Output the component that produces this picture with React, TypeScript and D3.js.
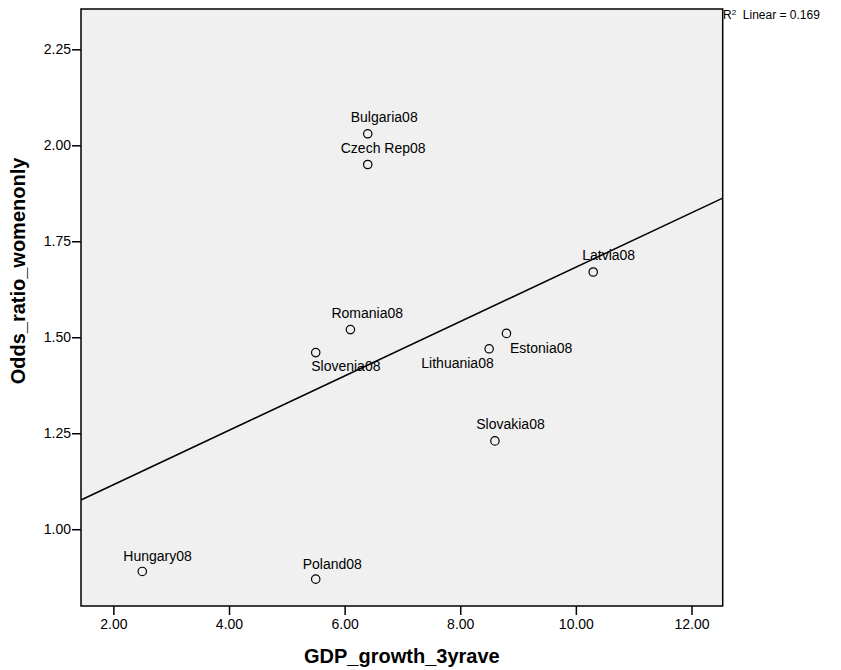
import React, { useRef, useEffect } from 'react';
import * as d3 from 'd3';

// Country labels and values
const countries = ['Hungary08', 'Poland08', 'Bulgaria08', 'Czech Rep08', 'Romania08', 'Slovenia08', 'Estonia08', 'Lithuania08', 'Slovakia08', 'Latvia08'];
const gdpGrowth = [2.5, 5.5, 6.4, 6.4, 6.1, 5.5, 8.8, 8.5, 8.6, 10.3];
const oddsRatio = [0.89, 0.87, 2.03, 1.95, 1.52, 1.46, 1.51, 1.47, 1.23, 1.67];

const xTicks = [2, 4, 6, 8, 10, 12];
const yTicks = [1.0, 1.25, 1.5, 1.75, 2.0, 2.25];

// where SPSS put each point label relative to its marker
const labelPlacement: Record<string, { dx: number; dy: number; anchor: string }> = {
  'Hungary08': { dx: -19, dy: -10.5, anchor: 'start' },
  'Poland08': { dx: -13, dy: -10.5, anchor: 'start' },
  'Bulgaria08': { dx: -17, dy: -11.5, anchor: 'start' },
  'Czech Rep08': { dx: -27, dy: -11.5, anchor: 'start' },
  'Romania08': { dx: -19, dy: -11.5, anchor: 'start' },
  'Slovenia08': { dx: -4.5, dy: 18.7, anchor: 'start' },
  'Estonia08': { dx: 3.5, dy: 19.4, anchor: 'start' },
  'Lithuania08': { dx: 4.6, dy: 19.3, anchor: 'end' },
  'Slovakia08': { dx: -18.7, dy: -11.7, anchor: 'start' },
  'Latvia08': { dx: -11, dy: -11.6, anchor: 'start' },
};

const App: React.FC = () => {
  const svgRef = useRef<SVGSVGElement | null>(null);

  useEffect(() => {
    const svg = d3.select(svgRef.current);
    svg.selectAll('*').remove();

    const plot = { left: 81, right: 722.7, top: 9, bottom: 606 };
    const font = 'Arial, "Liberation Sans", Helvetica, sans-serif';

    const x = d3.scaleLinear().domain([1.44, 12.54]).range([plot.left, plot.right]);
    const y = d3.scaleLinear().domain([0.8, 2.355]).range([plot.bottom, plot.top]);

    const data = countries.map((name, i) => ({ name, gdp: gdpGrowth[i], odds: oddsRatio[i] }));

    // plot background
    svg.append('rect')
      .attr('x', plot.left)
      .attr('y', plot.top)
      .attr('width', plot.right - plot.left)
      .attr('height', plot.bottom - plot.top)
      .attr('fill', '#f0f0f0');

    // least squares fit line
    const mx = d3.mean(gdpGrowth)!;
    const my = d3.mean(oddsRatio)!;
    const sxy = d3.sum(gdpGrowth, (v, i) => (v - mx) * (oddsRatio[i] - my));
    const sxx = d3.sum(gdpGrowth, v => (v - mx) ** 2);
    const slope = sxy / sxx;
    const intercept = my - slope * mx;
    const [x0, x1] = x.domain();

    svg.append('line')
      .attr('x1', x(x0))
      .attr('y1', y(intercept + slope * x0))
      .attr('x2', x(x1))
      .attr('y2', y(intercept + slope * x1))
      .attr('stroke', '#000')
      .attr('stroke-width', 1.5);

    // x axis
    const xAxis = svg.append('g')
      .attr('transform', `translate(0,${plot.bottom})`)
      .call(d3.axisBottom(x).tickValues(xTicks).tickFormat(d3.format('.2f')).tickSize(9).tickSizeOuter(0));
    xAxis.select('.domain').remove();
    xAxis.selectAll('.tick line').attr('stroke', '#000').attr('stroke-width', 1.5);
    xAxis.selectAll('.tick text')
      .attr('fill', '#000')
      .attr('font-family', font)
      .attr('font-size', '14px')
      .attr('y', 13)
      .attr('dy', '0.71em');

    // y axis
    const yAxis = svg.append('g')
      .attr('transform', `translate(${plot.left},0)`)
      .call(d3.axisLeft(y).tickValues(yTicks).tickFormat(d3.format('.2f')).tickSize(9).tickSizeOuter(0));
    yAxis.select('.domain').remove();
    yAxis.selectAll('.tick line').attr('stroke', '#000').attr('stroke-width', 1.5);
    yAxis.selectAll('.tick text')
      .attr('fill', '#000')
      .attr('font-family', font)
      .attr('font-size', '14px')
      .attr('x', -10);

    // frame
    svg.append('rect')
      .attr('x', plot.left)
      .attr('y', plot.top)
      .attr('width', plot.right - plot.left)
      .attr('height', plot.bottom - plot.top)
      .attr('fill', 'none')
      .attr('stroke', '#000')
      .attr('stroke-width', 1.5);

    // points
    svg.append('g')
      .selectAll('circle')
      .data(data)
      .enter()
      .append('circle')
      .attr('cx', d => x(d.gdp))
      .attr('cy', d => y(d.odds))
      .attr('r', 4.2)
      .attr('fill', 'none')
      .attr('stroke', '#000')
      .attr('stroke-width', 1.2);

    // point labels
    svg.append('g')
      .selectAll('text')
      .data(data)
      .enter()
      .append('text')
      .attr('x', d => x(d.gdp) + labelPlacement[d.name].dx)
      .attr('y', d => y(d.odds) + labelPlacement[d.name].dy)
      .attr('text-anchor', d => labelPlacement[d.name].anchor)
      .attr('font-family', font)
      .attr('font-size', '14px')
      .attr('fill', '#000')
      .text(d => d.name);

    // axis titles
    svg.append('text')
      .attr('x', (plot.left + plot.right) / 2)
      .attr('y', 663)
      .attr('text-anchor', 'middle')
      .attr('font-family', font)
      .attr('font-size', '20px')
      .attr('font-weight', 'bold')
      .text('GDP_growth_3yrave');

    svg.append('text')
      .attr('transform', 'translate(25,271) rotate(-90)')
      .attr('text-anchor', 'middle')
      .attr('font-family', font)
      .attr('font-size', '20px')
      .attr('font-weight', 'bold')
      .text('Odds_ratio_womenonly');

    // R squared annotation
    const r2 = (sxy * sxy) / (sxx * d3.sum(oddsRatio, v => (v - my) ** 2));
    const r2Text = svg.append('text')
      .attr('x', 723)
      .attr('y', 19)
      .attr('font-family', font)
      .attr('font-size', '12px')
      .attr('fill', '#000');
    r2Text.append('tspan').text('R');
    r2Text.append('tspan').attr('font-size', '8px').attr('dy', -4).text('2');
    r2Text.append('tspan').attr('dy', 4).text(`  Linear = ${r2.toFixed(3)}`).attr('xml:space', 'preserve');
  }, []);

  return (
    <svg
      ref={svgRef}
      width={841}
      height={670}
      style={{ position: 'absolute', left: 0, top: 0, background: '#fff' }}
    />
  );
};

export default App;
